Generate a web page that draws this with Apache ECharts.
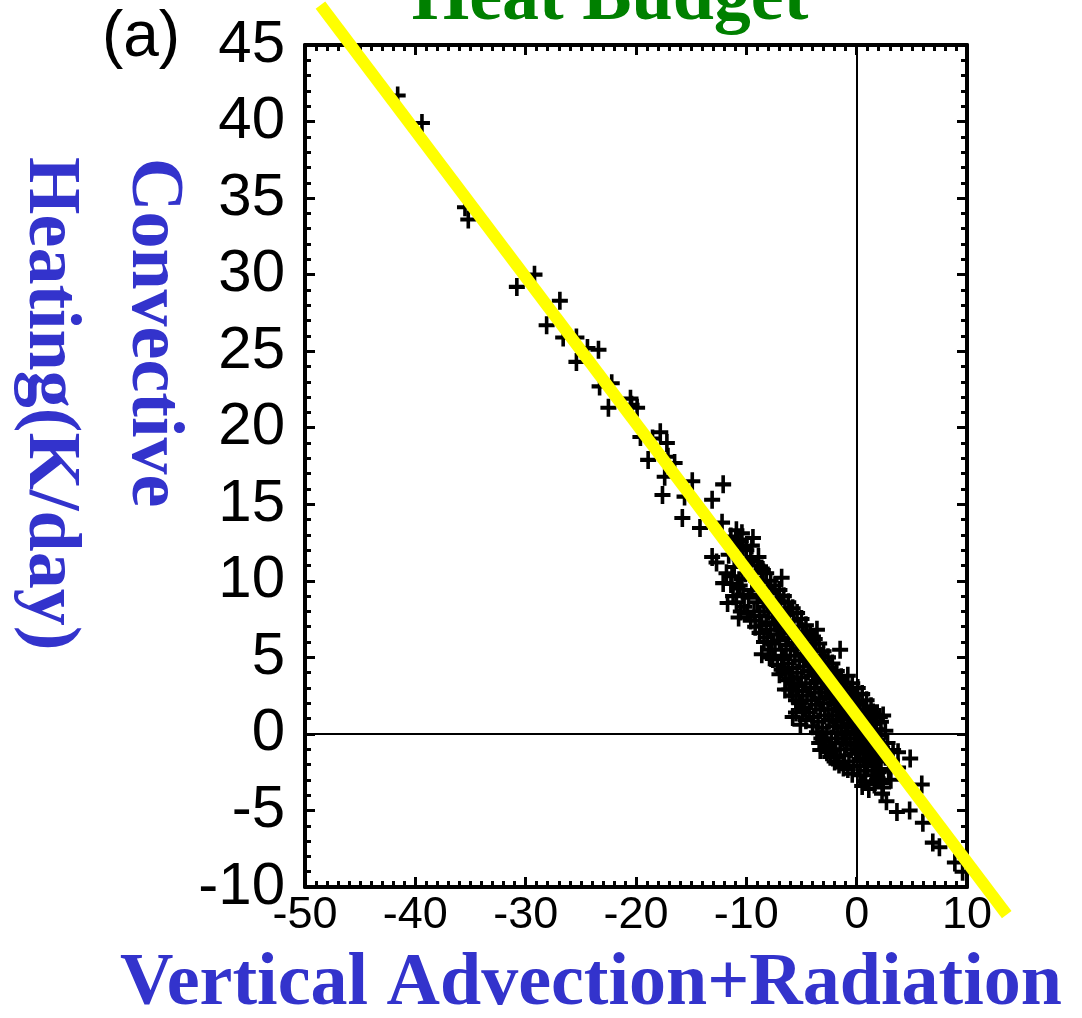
<!DOCTYPE html>
<html>
<head>
<meta charset="utf-8">
<script src="https://cdn.jsdelivr.net/npm/echarts@6/dist/echarts.min.js"></script>
<style>
html,body{margin:0;padding:0;background:#fff;}
#chart{width:1082px;height:1018px;}
</style>
</head>
<body>
<div id="chart"></div>
<script>
// ---- Data ----
const xRange = [-50, 10];
const yRange = [-10, 45];
const xInterval = 10;
const yInterval = 5;

const titleText = 'Heat Budget';
const panelLabel = '(a)';
const xTitle = 'Vertical Advection+Radiation';
const yTitleLine1 = 'Convective';
const yTitleLine2 = 'Heating(K/day)';

// sparse / outlying crosses
const sparsePoints = [
  [-41.6, 41.7], [-39.4, 39.9], [-35.5, 34.4], [-35.2, 33.6], [-30.8, 29.2], [-29.2, 30.0],
  [-28.1, 26.7], [-26.9, 28.3], [-26.6, 25.9], [-25.4, 25.9], [-25.4, 24.3], [-24.4, 25.2],
  [-23.4, 25.1], [-23.3, 22.7], [-22.5, 21.3], [-22.2, 22.9], [-20.5, 21.9], [-20.4, 21.5],
  [-19.9, 21.3], [-19.6, 19.4], [-18.9, 17.9], [-18.5, 19.3], [-17.8, 19.7], [-17.6, 15.6],
  [-17.4, 16.8], [-17.2, 19.0], [-17.1, 18.1], [-16.5, 17.7], [-15.6, 15.5], [-15.8, 14.1],
  [-14.9, 16.5], [-14.2, 13.45], [-13.1, 15.3], [-12.1, 16.3], [-12.2, 13.8], [-13.1, 11.55],
  [-12.7, 11.2], [-11.8, 10.5], [-12.1, 9.85], [-10.6, 9.7], [-11.7, 8.55], [-10.4, 13.1],
  [-10.8, 12.7], [-9.4, 12.8], [-10.3, 12.2], [-8.9, 11.55], [-10.0, 11.2], [-8.5, 10.7],
  [-6.8, 10.2], [-3.6, 6.8], [-1.5, 5.5], [-5.8, 1.1], [-6.5, 2.9], [1.5, 1.4], [2.1, 1.1],
  [2.4, 1.2], [-3.3, -1.05], [-2.7, -1.2], [-1.8, -1.5], [3.3, -1.05], [3.75, -1.2],
  [4.85, -1.6], [3.75, -2.2], [1.85, -3.0], [2.3, -3.9], [2.4, -3.5], [5.9, -3.3],
  [3.65, -5.1], [4.8, -5.0], [6.0, -5.8], [6.9, -7.1], [7.5, -7.4], [8.9, -8.4], [9.6, -9.0]
];

// dense core of the cloud
const densePoints = [
  [-11.4,12.9],[-11.6,11.7],[-11.3,10.3],[-11.2,9.0],[-11.4,9.8],
  [-11.0,12.4],[-10.9,13.3],[-11.1,10.9],[-10.8,9.5],[-10.9,8.6],
  [-10.5,12.6],[-10.6,11.4],[-10.4,10.1],[-10.3,9.1],[-10.5,8.0],[-10.7,7.6],
  [-10.0,12.0],[-9.9,11.1],[-10.1,10.5],[-9.8,8.9],[-10.2,8.3],[-9.9,7.9],
  [-9.5,12.3],[-9.6,11.3],[-9.4,10.2],[-9.5,9.4],[-9.3,8.0],[-9.6,7.4],
  [-9.0,11.0],[-9.1,10.0],[-8.9,9.6],[-9.0,8.6],[-8.8,7.7],[-9.2,7.0],[-8.8,6.6],
  [-8.6,10.8],[-8.5,9.9],[-8.7,9.1],[-8.4,8.3],[-8.6,7.1],[-8.4,6.0],[-8.6,5.2],
  [-8.2,10.5],[-8.1,9.5],[-8.3,8.8],[-8.0,8.0],[-8.2,7.3],[-8.1,6.3],[-8.0,5.5],
  [-7.8,10.0],[-7.7,9.2],[-7.9,8.4],[-7.6,7.6],[-7.8,6.8],[-7.7,5.9],[-7.9,5.0],[-7.6,4.9],
  [-7.4,9.7],[-7.3,8.8],[-7.5,8.1],[-7.4,7.2],[-7.2,6.5],[-7.4,5.5],[-7.2,4.5],
  [-7.0,9.4],[-6.9,8.6],[-7.1,7.7],[-6.9,7.0],[-7.0,6.1],[-6.8,5.1],[-6.8,4.2],[-7.0,3.9],
  [-6.6,9.0],[-6.5,8.2],[-6.7,7.4],[-6.6,6.6],[-6.4,5.8],[-6.6,4.9],[-6.5,4.0],[-6.4,3.5],
  [-6.2,8.6],[-6.1,7.9],[-6.3,7.1],[-6.2,6.3],[-6.0,5.5],[-6.2,4.6],[-6.1,3.6],[-6.1,2.9],
  [-5.8,8.2],[-5.7,7.4],[-5.9,6.7],[-5.8,5.9],[-5.6,5.1],[-5.8,4.3],[-5.7,3.3],[-5.8,2.5],
  [-5.4,7.9],[-5.3,7.0],[-5.5,6.3],[-5.4,5.6],[-5.2,4.8],[-5.4,4.0],[-5.3,3.1],[-5.5,2.2],[-5.5,1.4],
  [-5.0,7.5],[-4.9,6.7],[-5.1,6.0],[-5.0,5.2],[-4.8,4.4],[-5.0,3.7],[-4.9,2.8],[-5.2,2.0],[-4.9,1.6],[-5.1,0.6],
  [-4.6,7.1],[-4.5,6.4],[-4.7,5.6],[-4.6,4.9],[-4.4,4.1],[-4.6,3.3],[-4.5,2.5],[-4.7,1.7],[-4.6,0.9],
  [-4.2,6.6],[-4.1,5.9],[-4.3,5.2],[-4.2,4.5],[-4.0,3.8],[-4.2,3.0],[-4.1,2.2],[-4.3,1.4],[-4.0,0.5],
  [-3.8,6.2],[-3.7,5.5],[-3.9,4.8],[-3.8,4.1],[-3.6,3.4],[-3.8,2.7],[-3.7,1.9],[-3.9,1.1],[-3.6,0.1],
  [-3.4,5.9],[-3.3,5.1],[-3.5,4.4],[-3.4,3.8],[-3.2,3.0],[-3.4,2.3],[-3.3,1.6],[-3.5,0.8],[-3.4,-0.6],[-3.2,-0.3],
  [-3.0,5.4],[-2.9,4.7],[-3.1,4.0],[-3.0,3.4],[-2.8,2.7],[-3.0,2.0],[-2.9,1.2],[-3.1,0.4],[-2.9,-0.5],[-2.8,-1.0],
  [-2.6,5.0],[-2.5,4.3],[-2.7,3.7],[-2.6,3.0],[-2.4,2.3],[-2.6,1.6],[-2.5,0.9],[-2.7,0.1],[-2.5,-0.8],[-2.4,-1.5],
  [-2.2,4.6],[-2.1,3.9],[-2.3,3.2],[-2.2,2.6],[-2.0,1.9],[-2.2,1.2],[-2.1,0.5],[-2.3,-0.3],[-2.1,-1.1],[-2.0,-1.8],
  [-1.8,4.1],[-1.7,3.5],[-1.9,2.9],[-1.8,2.2],[-1.6,1.5],[-1.8,0.8],[-1.7,0.1],[-1.9,-0.6],[-1.6,-2.0],
  [-1.4,3.7],[-1.3,3.0],[-1.5,2.4],[-1.4,1.8],[-1.2,1.1],[-1.4,0.4],[-1.3,-0.3],[-1.5,-1.0],[-1.2,-2.2],
  [-1.0,3.3],[-0.9,2.6],[-1.1,2.0],[-1.0,1.4],[-0.8,0.7],[-1.0,0.0],[-0.9,-0.7],[-1.1,-1.4],[-0.8,3.8],[-0.8,-2.3],
  [-0.6,2.9],[-0.5,2.3],[-0.7,1.6],[-0.6,1.0],[-0.4,0.4],[-0.6,-0.3],[-0.5,-1.0],[-0.7,-1.8],[-0.4,3.3],[-0.4,-2.6],
  [-0.2,2.5],[-0.1,1.9],[-0.3,1.2],[-0.2,0.6],[0.0,0.0],[-0.2,-0.6],[-0.1,-1.3],[-0.3,-2.1],[0.1,3.0],
  [0.2,2.0],[0.3,1.4],[0.1,0.8],[0.2,0.2],[0.4,-0.4],[0.2,-1.1],[0.3,-1.8],[0.3,-2.7],[0.5,2.6],
  [0.6,1.6],[0.7,1.0],[0.5,0.4],[0.6,-0.2],[0.8,-0.9],[0.6,-1.6],[0.7,-2.4],[0.5,-3.4],[0.8,-3.1],[0.9,2.2],
  [1.0,1.2],[1.1,0.5],[0.9,-0.1],[1.0,-0.7],[1.2,-1.4],[1.0,-2.1],[1.1,-3.6],[1.3,1.8],
  [1.4,0.8],[1.5,0.1],[1.3,-0.6],[1.4,-1.2],[1.6,-2.0],[1.4,-2.7],[1.6,-3.3],
  [1.8,0.3],[1.9,-0.4],[1.7,-1.1],[1.8,-1.8],[2.0,-2.5],[1.9,-2.9],[1.8,1.2],
  [2.2,-0.1],[2.3,-0.9],[2.1,-1.6],[2.2,-2.4],[2.4,-3.2],[2.2,0.8],
  [2.6,0.2],[2.8,-0.6],[2.6,-1.5],[2.9,-2.3],[3.1,-3.0],[2.7,-4.4]
];

// yellow fit line end points (extends beyond the frame)
const fitLineStart = [-48.6, 47.6];
const fitLineEnd = [13.6, -11.8];

// ---- Chart ----
const chart = echarts.init(document.getElementById('chart'), null, {renderer: 'canvas'});

const crossPath = 'path://M-1.8,-8L1.8,-8L1.8,-1.8L8,-1.8L8,1.8L1.8,1.8L1.8,8L-1.8,8L-1.8,1.8L-8,1.8L-8,-1.8L-1.8,-1.8Z';
const tickFont = '"Liberation Sans", Arial, sans-serif';
const serifBold = '"Liberation Serif", "Times New Roman", serif';

function axisCommon(min, max, interval, minorSplit, showLabel, labelSize, labelMargin) {
  return {
    type: 'value', min: min, max: max, interval: interval,
    axisLine: {show: true, onZero: false, lineStyle: {color: '#000', width: 4}},
    axisTick: {show: true, inside: true, length: 10, lineStyle: {color: '#000', width: 3}},
    minorTick: {show: true, splitNumber: minorSplit, length: 6, lineStyle: {color: '#000', width: 3}},
    splitLine: {show: false},
    minorSplitLine: {show: false},
    axisLabel: {show: showLabel, color: '#000', fontSize: labelSize, fontFamily: tickFont, margin: labelMargin}
  };
}

const xBottom = Object.assign(axisCommon(xRange[0], xRange[1], xInterval, 10, true, 45, 6), {position: 'bottom'});
const xTop = Object.assign(axisCommon(xRange[0], xRange[1], xInterval, 10, false, 45, 6), {position: 'top'});
const yLeft = Object.assign(axisCommon(yRange[0], yRange[1], yInterval, 5, true, 60, 20), {position: 'left'});
const yRight = Object.assign(axisCommon(yRange[0], yRange[1], yInterval, 5, false, 60, 20), {position: 'right'});

const option = {
  animation: false,
  backgroundColor: '#fff',
  grid: {left: 305, right: 115, top: 45, bottom: 131, containLabel: false},
  xAxis: [xBottom, xTop],
  yAxis: [yLeft, yRight],
  series: [
    {
      type: 'scatter',
      xAxisIndex: 0, yAxisIndex: 0,
      symbol: crossPath,
      symbolSize: [16, 18],
      itemStyle: {color: '#000', opacity: 1},
      data: sparsePoints.concat(densePoints),
      z: 3,
      markLine: {
        silent: true,
        symbol: ['none', 'none'],
        label: {show: false},
        lineStyle: {color: '#000', width: 2, type: 'solid'},
        emphasis: {disabled: true},
        data: [{xAxis: 0}, {yAxis: 0}]
      }
    },
    {
      type: 'custom',
      xAxisIndex: 0, yAxisIndex: 0,
      clip: false,
      z: 5,
      silent: true,
      encode: {x: [0, 2], y: [1, 3]},
      data: [[fitLineStart[0], fitLineStart[1], fitLineEnd[0], fitLineEnd[1]]],
      renderItem: function (params, api) {
        const p0 = api.coord([api.value(0), api.value(1)]);
        const p1 = api.coord([api.value(2), api.value(3)]);
        return {
          type: 'line',
          shape: {x1: p0[0], y1: p0[1], x2: p1[0], y2: p1[1]},
          style: {stroke: '#ffff00', lineWidth: 12, lineCap: 'butt'}
        };
      }
    }
  ],
  graphic: [
    {type: 'text', x: 610, y: 0, z: 10,
     style: {text: titleText, fill: '#008000', font: 'bold 74px ' + serifBold, textAlign: 'center', textVerticalAlign: 'middle'}},
    {type: 'text', x: 141, y: 38, z: 10,
     style: {text: panelLabel, fill: '#000', font: '64px "Liberation Sans", Arial, sans-serif', textAlign: 'center', textVerticalAlign: 'middle'}},
    {type: 'text', x: 591, y: 985, z: 10,
     style: {text: xTitle, fill: '#3333cc', font: 'bold 74px ' + serifBold, textAlign: 'center', textVerticalAlign: 'middle'}},
    {type: 'text', x: 152, y: 158, rotation: -Math.PI / 2, z: 10,
     style: {text: yTitleLine1, fill: '#3333cc', font: 'bold 74px ' + serifBold, textAlign: 'left', textVerticalAlign: 'middle'}},
    {type: 'text', x: 49, y: 157, rotation: -Math.PI / 2, z: 10,
     style: {text: yTitleLine2, fill: '#3333cc', font: 'bold 74px ' + serifBold, textAlign: 'left', textVerticalAlign: 'middle'}}
  ]
};

chart.setOption(option);
</script>
</body>
</html>
